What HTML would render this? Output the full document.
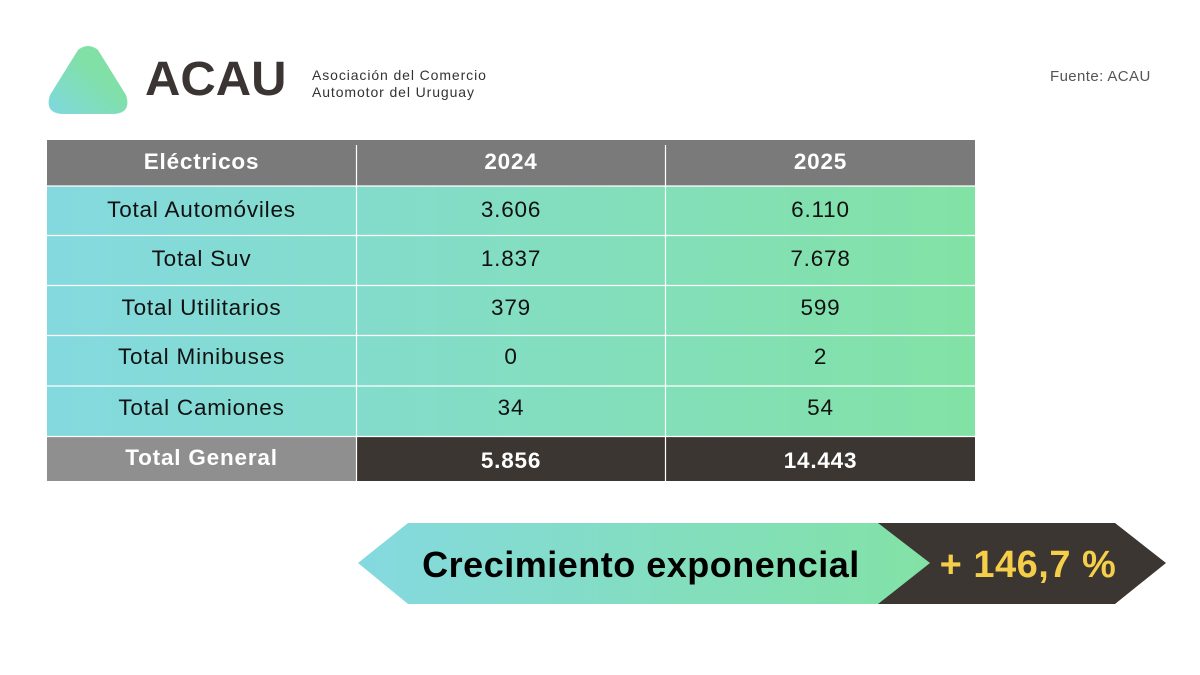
<!DOCTYPE html>
<html><head><meta charset="utf-8"><style>
body{margin:0;width:1200px;height:675px;background:#fff;position:relative;overflow:hidden;font-family:"Liberation Sans",sans-serif;}
.abs{position:absolute;}
.cell{position:absolute;display:flex;align-items:center;justify-content:center;font-size:22.5px;letter-spacing:0.8px;color:#111;}
</style></head><body>
<svg class="abs" style="left:0;top:0" width="1200" height="675">
<defs>
<linearGradient id="g1" x1="0" y1="1" x2="1" y2="0"><stop offset="0" stop-color="#7fd8e0"/><stop offset="0.6" stop-color="#80e0a8"/><stop offset="1" stop-color="#80e0a0"/></linearGradient>
<linearGradient id="g2" x1="0" y1="0" x2="1" y2="0"><stop offset="0" stop-color="#84d9df"/><stop offset="1" stop-color="#82e2a5"/></linearGradient>
</defs>
<path d="M78 50 Q88 42 98 50 L126 95 Q132 114 112 114 L64 114 Q44 114 50 95 Z" fill="url(#g1)"/>
<rect x="47" y="140" width="928" height="46" fill="#7a7a7a"/>
<rect x="47" y="186" width="928" height="250" fill="url(#g2)"/>
<rect x="47" y="437" width="309" height="44" fill="#8f8f8f"/>
<rect x="357" y="437" width="618" height="44" fill="#3b3632"/>
<g stroke="#fff" stroke-width="1.2">
<line x1="47" y1="186" x2="975" y2="186"/><line x1="47" y1="235.5" x2="975" y2="235.5"/>
<line x1="47" y1="285.5" x2="975" y2="285.5"/><line x1="47" y1="335.5" x2="975" y2="335.5"/>
<line x1="47" y1="386" x2="975" y2="386"/><line x1="47" y1="436.5" x2="975" y2="436.5"/>
<line x1="356.5" y1="145" x2="356.5" y2="481"/><line x1="665.5" y1="145" x2="665.5" y2="481"/>
</g>
<polygon points="878,523 1115,523 1166,563 1115,604 878,604" fill="#3b3632"/>
<polygon points="408,523 878,523 930,563 878,604 408,604 358,563" fill="url(#g2)"/>
</svg>
<div class="abs" style="left:145px;top:52px;font-size:48px;font-weight:900;color:#3a3532;letter-spacing:0px;transform:scaleX(1.02);transform-origin:left;">ACAU</div>
<div class="abs" style="left:312px;top:67px;font-size:14px;line-height:17px;color:#333;letter-spacing:0.9px;">Asociación del Comercio<br>Automotor del Uruguay</div>
<div class="abs" style="left:1050px;top:68px;font-size:15px;color:#555;letter-spacing:0.4px;">Fuente: ACAU</div>

<div class="cell" style="left:47px;top:140px;width:309px;height:44px;color:#fff;font-weight:bold;">Eléctricos</div>
<div class="cell" style="left:357px;top:140px;width:308px;height:44px;color:#fff;font-weight:bold;">2024</div>
<div class="cell" style="left:666px;top:140px;width:309px;height:44px;color:#fff;font-weight:bold;">2025</div>

<div class="cell" style="left:47px;top:186px;width:309px;height:48px;">Total Automóviles</div>
<div class="cell" style="left:357px;top:186px;width:308px;height:48px;">3.606</div>
<div class="cell" style="left:666px;top:186px;width:309px;height:48px;">6.110</div>
<div class="cell" style="left:47px;top:235px;width:309px;height:48px;">Total Suv</div>
<div class="cell" style="left:357px;top:235px;width:308px;height:48px;">1.837</div>
<div class="cell" style="left:666px;top:235px;width:309px;height:48px;">7.678</div>
<div class="cell" style="left:47px;top:284px;width:309px;height:48px;">Total Utilitarios</div>
<div class="cell" style="left:357px;top:284px;width:308px;height:48px;">379</div>
<div class="cell" style="left:666px;top:284px;width:309px;height:48px;">599</div>
<div class="cell" style="left:47px;top:333px;width:309px;height:48px;">Total Minibuses</div>
<div class="cell" style="left:357px;top:333px;width:308px;height:48px;">0</div>
<div class="cell" style="left:666px;top:333px;width:309px;height:48px;">2</div>
<div class="cell" style="left:47px;top:384px;width:309px;height:48px;">Total Camiones</div>
<div class="cell" style="left:357px;top:384px;width:308px;height:48px;">34</div>
<div class="cell" style="left:666px;top:384px;width:309px;height:48px;">54</div>

<div class="cell" style="left:47px;top:436px;width:309px;height:44px;color:#fff;font-weight:bold;">Total General</div>
<div class="cell" style="left:357px;top:439px;width:308px;height:44px;color:#fff;font-weight:bold;">5.856</div>
<div class="cell" style="left:666px;top:439px;width:309px;height:44px;color:#fff;font-weight:bold;">14.443</div>

<div class="cell" style="left:400px;top:540px;width:482px;height:50px;font-size:36px;font-weight:bold;color:#000;letter-spacing:0.5px;">Crecimiento exponencial</div>
<div class="cell" style="left:928px;top:540px;width:200px;height:50px;font-size:38px;font-weight:bold;color:#f5cf4a;letter-spacing:0.5px;">+ 146,7 %</div>
</body></html>
